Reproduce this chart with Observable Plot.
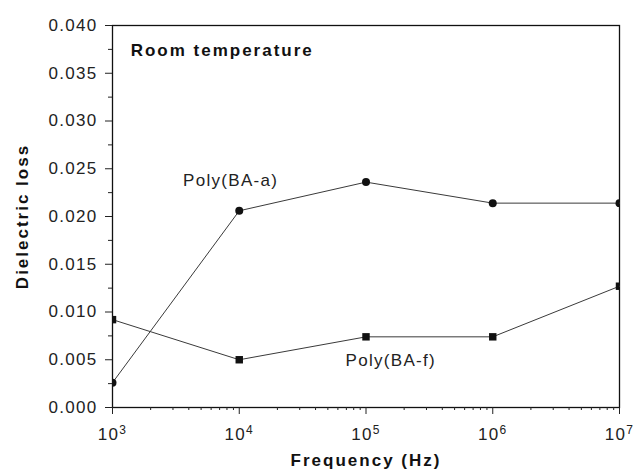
<!DOCTYPE html>
<html><head><meta charset="utf-8">
<script src="https://cdn.jsdelivr.net/npm/d3@7"></script>
<script src="https://cdn.jsdelivr.net/npm/@observablehq/plot@0.6"></script>
<style>
body{margin:0;background:#fff}
svg text{letter-spacing:1.3px}
g[font-weight="bold"] text{letter-spacing:2px}
</style></head><body><div id="chart"></div>
<script>
const frequency = [1e3, 1e4, 1e5, 1e6, 1e7];
const polyBAa = [0.0026, 0.0206, 0.0236, 0.0214, 0.0214];
const polyBAf = [0.0092, 0.0050, 0.0074, 0.0074, 0.0127];
const seriesNames = ["Poly(BA-a)", "Poly(BA-f)"];
const yTicks = [0, 0.005, 0.010, 0.015, 0.020, 0.025, 0.030, 0.035, 0.040];
const yMinor = [0.0025, 0.0075, 0.0125, 0.0175, 0.0225, 0.0275, 0.0325, 0.0375];
const xTicks = [1e3, 1e4, 1e5, 1e6, 1e7];
const xMinor = [3, 4, 5, 6].flatMap(e => [2,3,4,5,6,7,8,9].map(m => m * 10 ** e));

const dataA = frequency.map((f, i) => ({f, v: polyBAa[i]}));
const dataF = frequency.map((f, i) => ({f, v: polyBAf[i]}));

const plot = Plot.plot({
  width: 634, height: 474,
  marginLeft: 112, marginRight: 15, marginTop: 25, marginBottom: 67,
  style: {fontFamily: "Liberation Sans, Arial, sans-serif", fontSize: "17px", background: "white", color: "#111"},
  x: {type: "log", domain: [1e3, 1e7], label: null},
  y: {domain: [0, 0.04], label: null},
  marks: [
    Plot.frame({stroke: "#111", strokeWidth: 1.3}),
    Plot.axisY({ticks: yMinor, tickSize: 4, tickFormat: () => "", label: null, stroke: "#222"}),
    Plot.axisY({ticks: yTicks, tickSize: 7, tickPadding: 8, tickFormat: d3.format(".3f"), label: null, stroke: "#222", fill: "#222"}),
    Plot.axisX({ticks: xMinor, tickSize: 3, tickFormat: () => "", label: null, stroke: "#222"}),
    Plot.axisX({ticks: xTicks, tickSize: 7, tickPadding: 13, tickFormat: d => "10^" + Math.round(Math.log10(d)), label: null, stroke: "#222", fill: "#222"}),
    Plot.line(dataA, {x: "f", y: "v", stroke: "#3a3a3a", strokeWidth: 1}),
    Plot.line(dataF, {x: "f", y: "v", stroke: "#3a3a3a", strokeWidth: 1}),
    Plot.dot(dataA, {x: "f", y: "v", r: 4, fill: "#111", clip: true}),
    Plot.dot(dataF, {x: "f", y: "v", r: 4.2, symbol: "square", fill: "#111", clip: true}),
    Plot.text([seriesNames[0]], {x: 3.6e3, y: 0.0238, text: d => d, textAnchor: "start", fill: "#222"}),
    Plot.text([seriesNames[1]], {x: 6.9e4, y: 0.0049, text: d => d, textAnchor: "start", fill: "#222"}),
    Plot.text(["Room temperature"], {x: 1.39e3, y: 0.0374, text: d => d, textAnchor: "start", fontWeight: "bold", fill: "#111"}),
    Plot.text(["Dielectric loss"], {frameAnchor: "left", dx: -90, rotate: -90, textAnchor: "middle", lineAnchor: "middle", text: d => d, fontWeight: "bold", fill: "#111"}),
    Plot.text(["Frequency (Hz)"], {frameAnchor: "bottom", dy: 53, textAnchor: "middle", lineAnchor: "middle", text: d => d, fontWeight: "bold", fill: "#111"})
  ]
});

d3.select(plot).selectAll('g[aria-label="x-axis tick label"] text').each(function() {
  const t = d3.select(this);
  const s = t.text();
  if (!s.includes("^")) return;
  const [base, exp] = s.split("^");
  t.text(base);
  t.append("tspan").attr("dy", "-0.45em").attr("font-size", "12px").text(exp);
});

document.getElementById("chart").append(plot);
</script></body></html>
